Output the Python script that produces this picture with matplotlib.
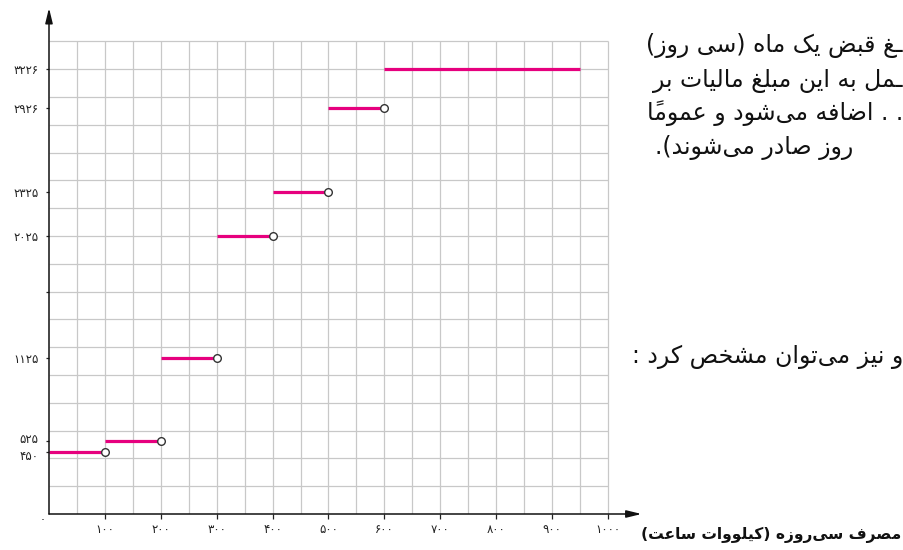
#!/usr/bin/env python3
# -*- coding: utf-8 -*-

import numpy as np
import matplotlib
matplotlib.use("Agg")
import matplotlib.pyplot as plt
import matplotlib.transforms as mtransforms

# bill brackets: consumption in kWh (start, end) and the monthly bill
seg_start = [0, 100, 200, 300, 400, 500, 600]
seg_end = [100, 200, 300, 400, 500, 600, 950]
bill = [450, 525, 1125, 2025, 2325, 2926, 3226]
open_end = [True, True, True, True, True, True, False]

x_ticks = [0, 100, 200, 300, 400, 500, 600, 700, 800, 900, 1000]
y_ticks = [450, 525, 1125, 2025, 2325, 2926, 3226]

x_label = "مصرف سی‌روزه (کیلووات ساعت)"
# the paragraph beside the figure is cut by the picture's right edge;
# only the visible part is kept (a tatweel stands for the cut joins)
side_lines = [
    "ـغ قبض یک ماه (سی روز)",
    "ـمل به این مبلغ مالیات بر",
    ". . اضافه می‌شود و عموماً",
    "روز صادر می‌شوند).",
    "و نیز می‌توان مشخص کرد :",
]

# the y axis of the book figure is not to scale; these pairs give the
# height (in grid rows) at which a bill value sits
y_scale_val = [0, 450, 525, 1125, 2025, 2325, 2926, 3226, 4126]
y_scale_row = [0, 2.23, 2.63, 5.6, 10, 11.58, 14.6, 16, 19]

PINK = "#e6007e"
GRID = "#c8c8c8"

# --- tiny arabic/persian shaper (matplotlib has no text shaping) ---
DUAL = {"ب": 0xFE8F, "پ": 0xFB56, "ت": 0xFE95, "ث": 0xFE99, "ج": 0xFE9D,
        "چ": 0xFB7A, "ح": 0xFEA1, "خ": 0xFEA5, "س": 0xFEB1, "ش": 0xFEB5,
        "ص": 0xFEB9, "ض": 0xFEBD, "ط": 0xFEC1, "ظ": 0xFEC5, "ع": 0xFEC9,
        "غ": 0xFECD, "ف": 0xFED1, "ق": 0xFED5, "ک": 0xFB8E, "گ": 0xFB92,
        "ل": 0xFEDD, "م": 0xFEE1, "ن": 0xFEE5, "ه": 0xFEE9, "ی": 0xFBFC}
RIGHT = {"ا": 0xFE8D, "آ": 0xFE81, "د": 0xFEA9, "ذ": 0xFEAB, "ر": 0xFEAD,
         "ز": 0xFEAF, "ژ": 0xFB8A, "و": 0xFEED}
TATWEEL = "\u0640"
MARKS = set(chr(c) for c in range(0x064B, 0x0653))
MIRROR = {"(": ")", ")": "("}


def shape_rtl(text):
    def neighbour(i, step):
        j = i + step
        while 0 <= j < len(text) and text[j] in MARKS:
            j += step
        return text[j] if 0 <= j < len(text) else ""

    clusters = []
    for i, c in enumerate(text):
        if c in MARKS and clusters:
            clusters[-1] += c
        elif c == "\u200c":
            continue
        elif c in DUAL or c in RIGHT:
            base = DUAL.get(c, RIGHT.get(c))
            prv = neighbour(i, -1)
            nxt = neighbour(i, 1)
            before = prv in DUAL or prv == TATWEEL
            after = c in DUAL and (nxt in DUAL or nxt in RIGHT or nxt == TATWEEL)
            if before and after:
                g = base + 3
            elif before:
                g = base + 1
            elif after:
                g = base + 2
            else:
                g = base
            clusters.append(chr(g))
        else:
            clusters.append(MIRROR.get(c, c))
    return "".join(reversed(clusters))


def fa_digits(v):
    return str(v).translate(str.maketrans("0123456789", "۰۱۲۳۴۵۶۷۸۹"))


def to_row(v):
    return np.interp(v, y_scale_val, y_scale_row)


def from_row(r):
    return np.interp(r, y_scale_row, y_scale_val)


plt.rcParams["font.family"] = ["DejaVu Sans"]

W, H = 904, 550
fig = plt.figure(figsize=(W / 100, H / 100), dpi=100)
# x=0 sits at px 49, 100 kWh = 55.9 px; y=0 at px 514, one row = 27.8 px
ax = fig.add_axes([49 / W, 36 / H, 1060 * 0.559 / W, 18.2 * 27.8 / H])
ax.set_yscale("function", functions=(to_row, from_row))
ax.set_xlim(0, 1060)
ax.set_ylim(0, from_row(18.2))

for s in ax.spines.values():
    s.set_visible(False)

# graph paper
top = from_row(17)
ax.vlines(np.arange(50, 1001, 50), 0, top, colors=GRID, lw=0.9, zorder=1)
ax.hlines(from_row(np.arange(1, 18)), 0, 1000, colors=GRID, lw=0.9, zorder=1)

# axes with arrow heads
arrow = dict(arrowstyle="-|>,head_length=0.9,head_width=0.22", lw=1.1,
             color="#111111", shrinkA=0, shrinkB=0)
ax.annotate("", xy=(1, 0), xytext=(0, 0), xycoords="axes fraction",
            arrowprops=arrow, zorder=6)
ax.annotate("", xy=(0, 1), xytext=(0, 0), xycoords="axes fraction",
            arrowprops=arrow, zorder=6)

# the step function
ax.hlines(bill, seg_start, seg_end, colors=PINK, lw=2.3, zorder=4)
ends_x = [e for e, o in zip(seg_end, open_end) if o]
ends_y = [b for b, o in zip(bill, open_end) if o]
ax.plot(ends_x, ends_y, "o", ms=5.5, mfc="white", mec="#333333", mew=1.0,
        zorder=5, clip_on=False)

# ticks
ax.set_xticks(x_ticks[1:])
ax.set_xticklabels([fa_digits(v) for v in x_ticks[1:]], fontsize=8.5)
ax.set_yticks(y_ticks + [from_row(8)])
ax.set_yticklabels([fa_digits(v) for v in y_ticks] + [""], fontsize=8.5)
ax.tick_params(axis="x", direction="out", length=3.6, width=0.9,
               colors="#222222", pad=3)
ax.tick_params(axis="y", direction="out", length=2.4, width=0.9,
               colors="#222222", pad=5)
# 525 and 450 sit very close: push them a little apart
ylabels = ax.get_yticklabels()
for lab, dy in ((ylabels[1], 2.5), (ylabels[0], -2.5)):
    lab.set_transform(lab.get_transform()
                      + mtransforms.ScaledTranslation(0, dy / 100, fig.dpi_scale_trans))
ax.annotate(fa_digits(0), xy=(0, 0), xytext=(-4.5, -4),
            textcoords="offset points", ha="center", va="center",
            fontsize=8, color="#222222")

# axis title and the cut-off paragraph at the right
fig.text(641 / W, 1 - 535 / H, shape_rtl(x_label), ha="left", va="center",
         fontsize=11.2, fontweight="bold", color="#111111")
para_x = [903, 903, 903, 655, 903]
para_ha = ["right", "right", "right", "left", "right"]
para_y = [46, 81, 113, 148, 357]
for txt, px, py, ha in zip(side_lines, para_x, para_y, para_ha):
    fig.text(px / W, 1 - py / H, shape_rtl(txt), ha=ha, va="center",
             fontsize=17, color="#111111")

fig.savefig("out.png", dpi=100)
